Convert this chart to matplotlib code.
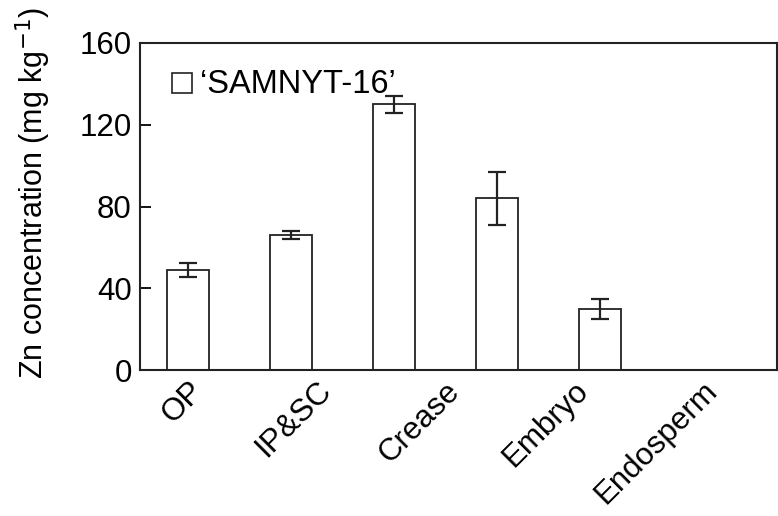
# %% Libs:
import numpy as np
import matplotlib.pyplot as plt
from matplotlib.patches import Rectangle
from matplotlib.transforms import blended_transform_factory

# %% Data:
tissues = ['OP', 'IP&SC', 'Crease', 'Embryo', 'Endosperm']
zn_mean = [49, 66, 130, 84, 30]
zn_err = [3.5, 2, 4.2, 12.9, 4.9]
yticks = [0, 40, 80, 120, 160]

plt.rcParams['font.family'] = ['Liberation Sans', 'DejaVu Sans']

fig = plt.figure(figsize=(7.78, 5.16), dpi=100)
ax = fig.add_axes([140/778, 1-370/516, 637/778, 327/516])

x = np.arange(len(tissues))
ax.bar(x, zn_mean, width=0.41, color='white', edgecolor='#222222', linewidth=1.3)
ax.errorbar(x, zn_mean, yerr=zn_err, fmt='none', ecolor='#222222',
            elinewidth=1.6, capsize=6.5, capthick=1.6)

ax.set_xlim(-0.47, 5.72)
ax.set_ylim(0, 160)
ax.set_yticks(yticks)
ax.set_xticks([])
ax.tick_params(axis='y', direction='in', length=8, width=1.3, labelsize=22.5, pad=6)
for s in ax.spines.values():
    s.set_linewidth(1.5)
    s.set_color('#222222')
ax.set_ylabel('Zn concentration (mg kg$^{-1}$)', fontsize=22)
ax.yaxis.set_label_coords(-0.136, 0.54)

# category labels: in the original they are spread wider than the bars
trans = blended_transform_factory(ax.transData, ax.transAxes)
label_x = x * 1.25 + 0.2
for lx, name in zip(label_x, tissues):
    ax.text(lx, -0.018, name, transform=trans, rotation=45, ha='right', va='top',
            fontsize=22.5)

# legend-like label with an open square
ax.add_patch(Rectangle((0.050, 0.847), 0.031, 0.061, transform=ax.transAxes,
                       facecolor='white', edgecolor='#222222', linewidth=1.2))
ax.text(0.094, 0.872, '\u2018SAMNYT-16\u2019', transform=ax.transAxes,
        fontsize=23.5, va='center', ha='left')

fig.savefig('out.png', dpi=100)
